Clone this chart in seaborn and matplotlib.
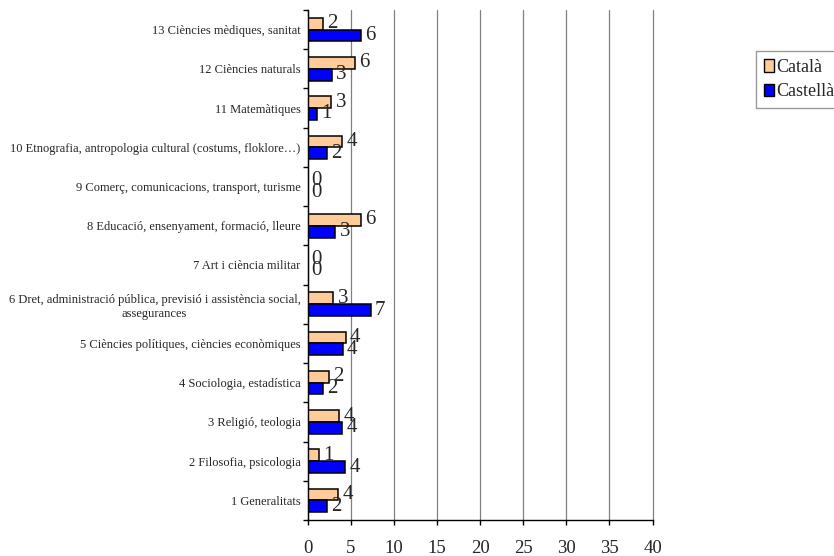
import numpy as np
import pandas as pd
import matplotlib
matplotlib.use("Agg")
import matplotlib.pyplot as plt
from matplotlib.patches import Patch
import seaborn as sns

categories = [
    "1 Generalitats",
    "2 Filosofia, psicologia",
    "3 Religió, teologia",
    "4 Sociologia, estadística",
    "5 Ciències polítiques, ciències econòmiques",
    "6 Dret, administració pública, previsió i assistència social,\nassegurances",
    "7 Art i ciència militar",
    "8 Educació, ensenyament, formació, lleure",
    "9 Comerç, comunicacions, transport, turisme",
    "10 Etnografia, antropologia cultural (costums, floklore…)",
    "11 Matemàtiques",
    "12 Ciències naturals",
    "13 Ciències mèdiques, sanitat",
]
catala = [3.58, 1.31, 3.69, 2.45, 4.45, 3.0, 0.0, 6.23, 0.0, 4.0, 2.77, 5.54, 1.85]
castella = [2.24, 4.38, 4.04, 1.85, 4.08, 7.31, 0.0, 3.23, 0.0, 2.3, 1.08, 2.85, 6.23]
series = ["Català", "Castellà"]
colors = ["#FFCC99", "#0000FF"]
xticks = [0, 5, 10, 15, 20, 25, 30, 35, 40]

sns.set_style("white")
plt.rcParams["font.family"] = ["Liberation Serif", "DejaVu Serif"]

df = pd.DataFrame({
    "categoria": categories * 2,
    "idioma": [series[0]] * len(categories) + [series[1]] * len(categories),
    "valor": catala + castella,
})
order = categories[::-1]

fig = plt.figure(figsize=(8.34, 5.56), dpi=100)
ax = fig.add_axes([307.5 / 834, 1 - 520 / 556, (652.5 - 307.5) / 834, (520 - 10) / 556])

sns.barplot(
    data=df, y="categoria", x="valor", hue="idioma",
    order=order, hue_order=series, palette=colors, saturation=1,
    orient="h", width=0.6, edgecolor="black", linewidth=1.1,
    legend=False, ax=ax, errorbar=None,
)

# value labels at the end of each bar, rounded to whole numbers
for cont in ax.containers:
    vals = cont.datavalues
    ax.bar_label(cont, labels=[f"{v:.0f}" for v in vals], padding=3, fontsize=15)

ax.set_xlim(0, 40)
ax.set_ylim(len(categories) - 0.5, -0.5)
ax.set_xticks(xticks)
ax.set_xticklabels([str(t) for t in xticks], fontsize=13.5)
ax.set_xlabel("")
ax.set_ylabel("")

ax.set_yticks(range(len(order)))
ax.set_yticklabels(order, fontsize=9.0, multialignment="center")
ax.set_yticks(np.arange(-0.5, len(order), 1.0), minor=True)
ax.tick_params(axis="y", which="major", length=0, pad=5)
ax.tick_params(axis="y", which="minor", length=3.6, width=1, direction="out", color="black", left=True)
ax.tick_params(axis="x", which="major", length=3.6, width=1, direction="out", color="black", pad=11, bottom=True)

ax.xaxis.grid(True, color="#808080", linewidth=0.9)
for gl in ax.get_xgridlines():
    gl.set_clip_on(False)
ax.yaxis.grid(False)
ax.set_axisbelow(True)
for side in ["top", "right"]:
    ax.spines[side].set_visible(False)
for side in ["left", "bottom"]:
    ax.spines[side].set_color("black")
    ax.spines[side].set_linewidth(1.0)

handles = [Patch(facecolor=c, edgecolor="black", linewidth=1.0) for c in colors]
leg = fig.legend(
    handles, series, loc="upper left", bbox_to_anchor=(756 / 834, 1 - 51 / 556),
    fontsize=13, frameon=True, fancybox=False, handlelength=0.55, handleheight=0.7,
    handletextpad=0.12, borderpad=0.45, labelspacing=0.4, borderaxespad=0,
)
leg.get_frame().set_edgecolor("#808080")
leg.get_frame().set_linewidth(1.0)

fig.savefig("out.png", dpi=100)
